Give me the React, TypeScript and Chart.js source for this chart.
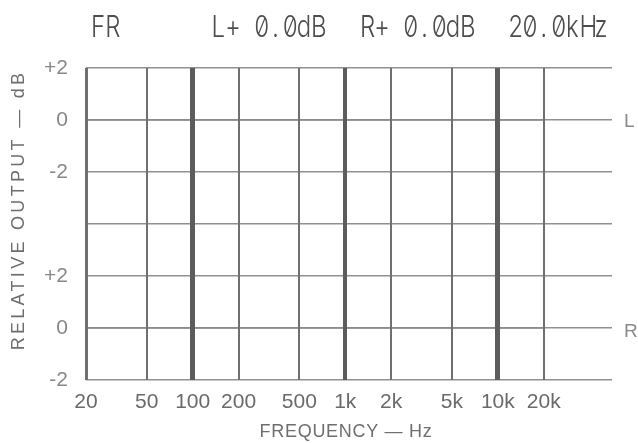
import React, { useEffect, useRef } from "react";
import { Chart, registerables } from "chart.js";

Chart.register(...registerables);

// ---- data ----
const X_TICKS = [20, 50, 100, 200, 500, 1000, 2000, 5000, 10000, 20000];
const X_LABELS = ["20", "50", "100", "200", "500", "1k", "2k", "5k", "10k", "20k"];
// stacked axis: lower panel R (0..4 => -2..+2), upper panel L (8..12 => -2..+2)
const Y_TICKS = [0, 2, 4, 6, 8, 10, 12];
const Y_LABELS = ["-2", "0", "+2", "", "-2", "0", "+2"];
const FREQ = [20, 20000];
const L_LEVEL = [10, 10]; // L channel at 0 dB
const R_LEVEL = [2, 2]; // R channel at 0 dB
const THICK_FREQ = [100, 1000, 10000];
const THICK_WIDTH = [5, 4, 5];
const TITLE_PARTS = ["FR", "L+ 0.0dB", "R+ 0.0dB", "20.0kHz"];
const TITLE_X = [91, 211, 360, 508];

const SANS = "'Liberation Sans', Arial, sans-serif";
const CELL = 14.3; // monospace cell width of the title display
const SQUEEZE = 0.8;

const textPlugin = {
  id: "customText",
  afterDraw(chart: any) {
    const ctx = chart.ctx as any;
    ctx.save();
    ctx.letterSpacing = "0px";
    // L / R markers
    ctx.fillStyle = "#8a8a8a";
    ctx.font = `19px ${SANS}`;
    ctx.textAlign = "left";
    ctx.textBaseline = "alphabetic";
    ctx.fillText("L", 624, 127);
    ctx.fillText("R", 624, 337);
    // axis titles
    ctx.fillStyle = "#6e6e6e";
    ctx.textAlign = "center";
    ctx.textBaseline = "middle";
    ctx.font = `18px ${SANS}`;
    ctx.letterSpacing = "0.7px";
    ctx.fillText("FREQUENCY — Hz", 346, 432);
    ctx.save();
    ctx.translate(19, 212);
    ctx.rotate(-Math.PI / 2);
    ctx.letterSpacing = "3.3px";
    ctx.fillText("RELATIVE OUTPUT — dB", 2, 0);
    ctx.restore();
    ctx.restore();
    ctx.letterSpacing = "0px";
  },
};

export default function App() {
  const ref = useRef<HTMLCanvasElement | null>(null);
  useEffect(() => {
    document.body.style.margin = "0";
    const canvas = ref.current!;
    const chart = new Chart(canvas, {
      type: "line",
      data: {
        datasets: [
          {
            label: "L",
            data: FREQ.map((f, i) => ({ x: f, y: L_LEVEL[i] })),
            borderColor: "#8a8a8a",
            borderWidth: 1.5,
            pointRadius: 0,
          },
          {
            label: "R",
            data: FREQ.map((f, i) => ({ x: f, y: R_LEVEL[i] })),
            borderColor: "#8a8a8a",
            borderWidth: 1.5,
            pointRadius: 0,
          },
        ],
      },
      options: {
        animation: false,
        responsive: false,
        events: [],
        layout: { padding: { top: 68, right: 26, left: 0, bottom: 0 } },
        plugins: {
          legend: { display: false },
          tooltip: { enabled: false },
          title: { display: false },
        },
        scales: {
          x: {
            type: "logarithmic",
            min: 20,
            max: 56000,
            afterBuildTicks: (s: any) => {
              s.ticks = X_TICKS.map((v) => ({ value: v }));
            },
            afterFit: (s: any) => {
              s.height = 63;
            },
            border: { display: false },
            grid: {
              drawTicks: false,
              z: 1,
              color: (c: any) => {
                const v = c.tick ? c.tick.value : 0;
                return THICK_FREQ.includes(v) ? "#5c5c5c" : "#707070";
              },
              lineWidth: (c: any) => {
                const v = c.tick ? c.tick.value : 0;
                const k = THICK_FREQ.indexOf(v);
                if (k >= 0) return THICK_WIDTH[k];
                return v === 20 ? 3 : 2;
              },
            },
            ticks: {
              autoSkip: false,
              maxRotation: 0,
              padding: 10,
              color: "#6a6a6a",
              font: { size: 21, family: SANS },
              callback: (v: any) => {
                const k = X_TICKS.indexOf(Number(v));
                return k >= 0 ? X_LABELS[k] : "";
              },
            },
          },
          y: {
            type: "linear",
            min: 0,
            max: 12,
            afterBuildTicks: (s: any) => {
              s.ticks = Y_TICKS.map((v) => ({ value: v }));
            },
            afterFit: (s: any) => {
              s.width = 86;
            },
            border: { display: false },
            grid: {
              drawTicks: false,
              color: "#909090",
              lineWidth: 1.4,
            },
            ticks: {
              padding: 18,
              color: "#888888",
              font: { size: 21, family: SANS },
              callback: (v: any) => {
                const k = Y_TICKS.indexOf(Number(v));
                return k >= 0 ? Y_LABELS[k] : "";
              },
            },
          },
        },
      },
      plugins: [textPlugin],
    } as any);
    return () => chart.destroy();
  }, []);
  return (
    <div style={{ position: "fixed", left: 0, top: 0, width: 638, height: 443, background: "#fff" }}>
      <canvas ref={ref} width={638} height={443} style={{ width: 638, height: 443, display: "block" }} />
      {TITLE_PARTS.map((t, i) => (
        <div
          key={t}
          style={{
            position: "absolute",
            left: TITLE_X[i],
            top: 8,
            display: "flex",
            fontFamily: "Inter, 'DejaVu Sans Mono', monospace",
            fontSize: 30,
            lineHeight: "36px",
            fontWeight: 300,
            color: "#4d4d4d",
            fontFeatureSettings: '"zero" 1, "tnum" 1',
            transform: `scaleX(${SQUEEZE})`,
            transformOrigin: "left top",
            whiteSpace: "pre",
          }}
        >
          {Array.from(t).map((ch, j) => (
            <span key={j} style={{ display: "inline-block", width: CELL / SQUEEZE, textAlign: "center" }}>
              {ch}
            </span>
          ))}
        </div>
      ))}
    </div>
  );
}
